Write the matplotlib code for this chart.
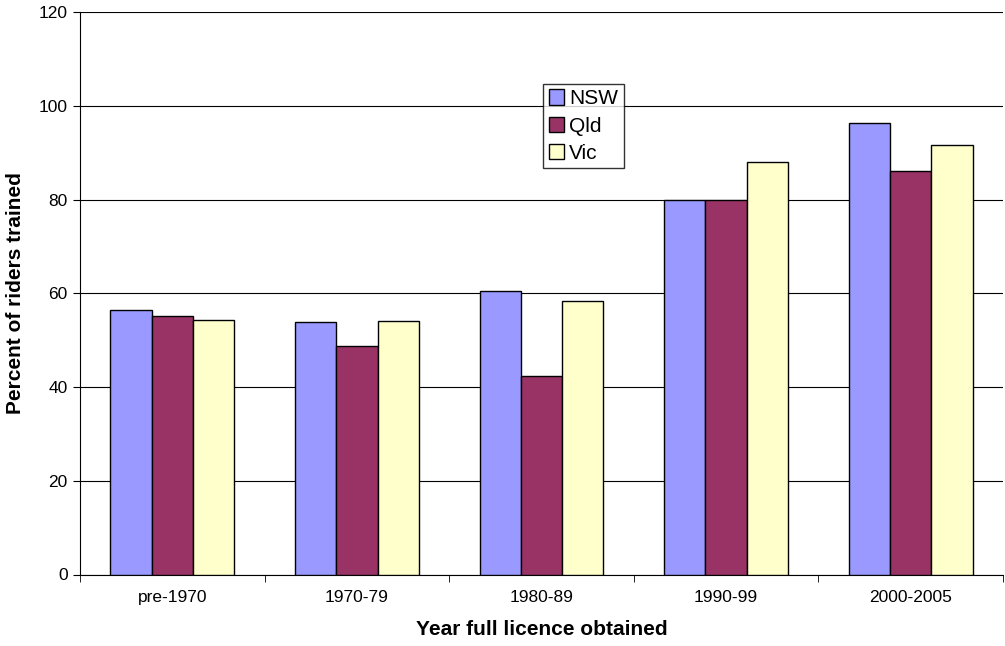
import matplotlib
matplotlib.use("Agg")
import matplotlib.pyplot as plt
import numpy as np

categories = ["pre-1970", "1970-79", "1980-89", "1990-99", "2000-2005"]
nsw = [56.4, 53.9, 60.5, 80.0, 96.4]
qld = [55.1, 48.7, 42.3, 80.0, 86.1]
vic = [54.3, 54.1, 58.4, 88.1, 91.7]
series_names = ["NSW", "Qld", "Vic"]
colors = ["#9999FF", "#993366", "#FFFFCC"]

plt.rcParams['font.family'] = ['Liberation Sans', 'DejaVu Sans']

fig = plt.figure(figsize=(10.05, 6.46), dpi=100)
ax = fig.add_axes([80/1005, (646-574.5)/646, 923/1005, 562.5/646])

x = np.arange(len(categories))
bw = 0.67 / 3
for i, (vals, name, c) in enumerate(zip([nsw, qld, vic], series_names, colors)):
    ax.bar(x + (i - 1) * bw, vals, width=bw, color=c, edgecolor="black",
           linewidth=1.0, label=name, zorder=3)

ax.set_xlim(-0.5, len(categories) - 0.5)
ax.set_ylim(0, 120)
ax.set_yticks(np.arange(0, 121, 20))
ax.yaxis.grid(True, color="black", linewidth=0.8, zorder=0)
ax.set_axisbelow(True)

ax.set_xticks(x)
ax.set_xticklabels(categories, fontsize=12.5)
ax.set_xticks(np.arange(-0.5, len(categories), 1), minor=True)
ax.tick_params(axis="x", which="major", length=0, pad=11)
ax.tick_params(axis="x", which="minor", length=5, direction="out")
ax.tick_params(axis="y", length=5, direction="out", labelsize=12.5, pad=4)

for s in ["top", "right"]:
    ax.spines[s].set_visible(False)
ax.spines["left"].set_color("black")
ax.spines["bottom"].set_color("black")

ax.set_ylabel("Percent of riders trained", fontsize=15, fontweight="bold", labelpad=10)
ax.set_xlabel("Year full licence obtained", fontsize=15, fontweight="bold", labelpad=11)

leg = ax.legend(loc="upper left", bbox_to_anchor=(0.502, 0.872), frameon=True,
                fancybox=False, edgecolor="black", fontsize=15,
                handlelength=0.75, handleheight=0.75, handletextpad=0.25,
                borderpad=0.25, labelspacing=0.4, borderaxespad=0)
leg.get_frame().set_linewidth(1.0)

fig.savefig("out.png", dpi=100)
